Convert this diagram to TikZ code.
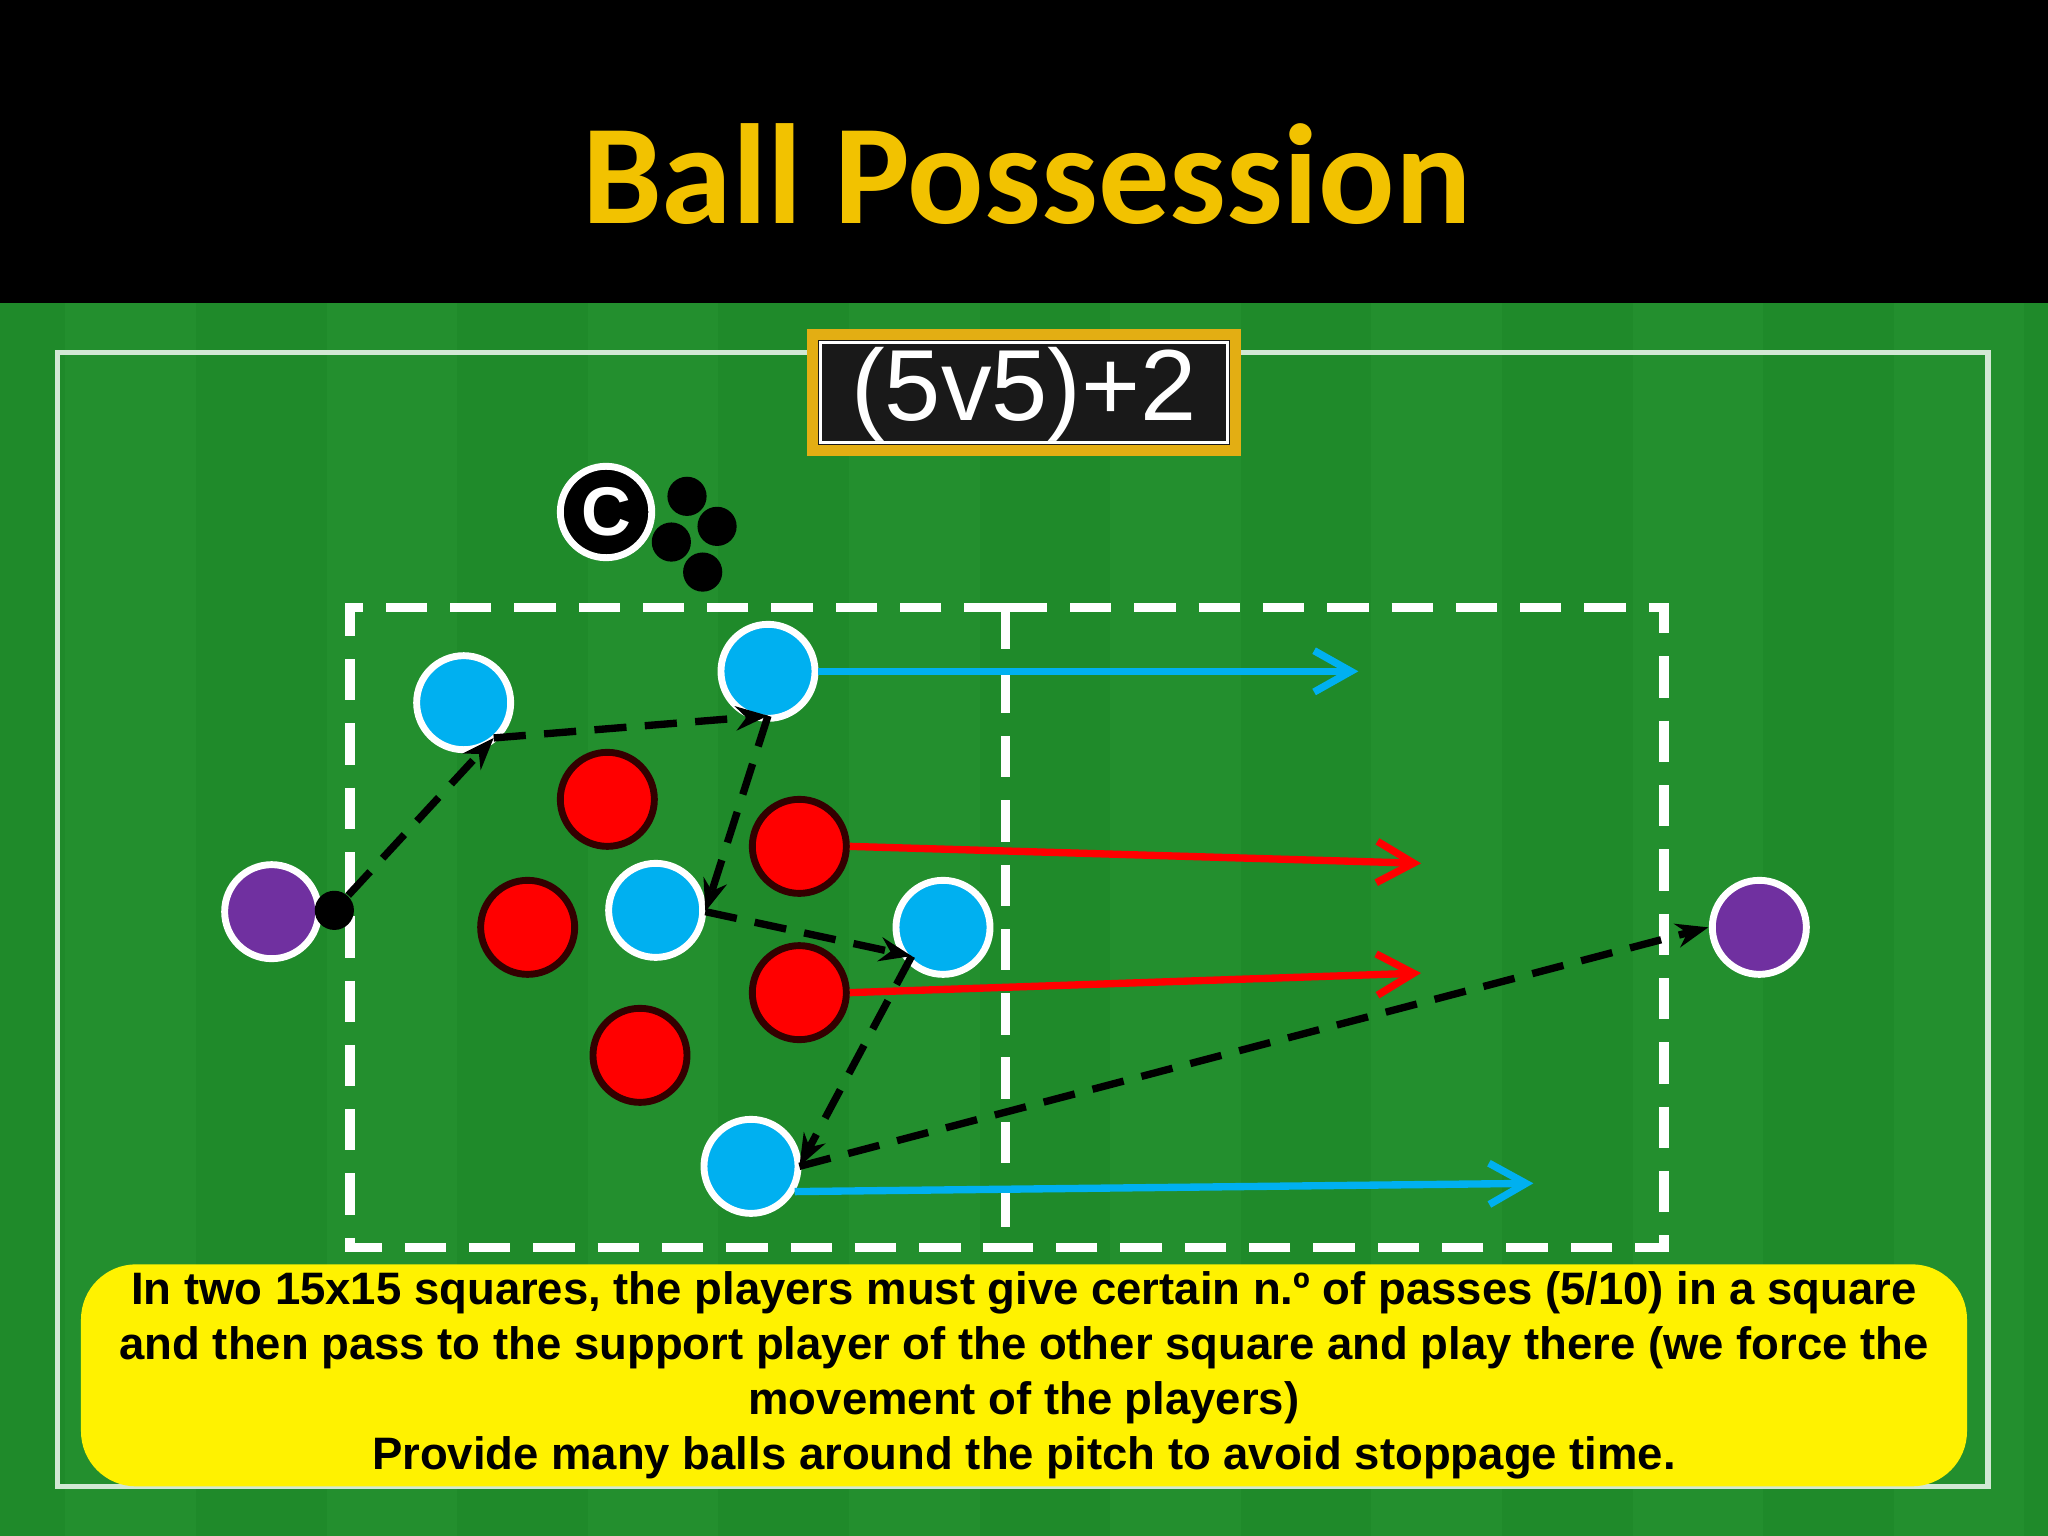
\documentclass[tikz,border=0pt]{standalone}
\usepackage{fontspec}
\setmainfont{Liberation Sans}
\newfontfamily\titlefont{Carlito}
\usetikzlibrary{arrows.meta}
\definecolor{pitch}{HTML}{1F8A2A}
\definecolor{pitchb}{HTML}{238F2E}
\definecolor{gold}{HTML}{F2C200}
\definecolor{pblue}{HTML}{00B0F0}
\definecolor{ppurple}{HTML}{7030A0}
\tikzset{
 player/.style={circle,minimum size=72*0.01cm,inner sep=0pt,line width=1.5pt},
 blueplayer/.style={player,fill=pblue,draw=white},
 redplayer/.style={player,fill=red,draw=black!80!red},
 purpleplayer/.style={player,fill=ppurple,draw=white},
 ball/.style={circle,fill=black,minimum size=30*0.01cm,inner sep=0pt},
 pass/.style={line width=1.6pt,dash pattern=on 7pt off 4pt,-{Stealth[length=7pt]}},
 run/.style={line width=1.6pt,-{Straight Barb[length=8pt,width=9pt]}},
 zone/.style={draw=white,line width=2pt,dash pattern=on 9pt off 5pt}
}
\begin{document}
\begin{tikzpicture}[x=0.01cm,y=-0.01cm]
\fill[black] (0,0) rectangle (1568,1176);
\fill[pitch] (0,232) rectangle (1568,1176);
\foreach \i in {0,2,...,14}{\fill[pitchb] (\i*100+50,232) rectangle (\i*100+150,1176);}
\node[font=\titlefont\bfseries\fontsize{31}{36}\selectfont,text=gold] (title) at (786,133) {Ball Possession};
\draw[white!80!pitch,line width=1.2pt] (44,270) rectangle (1522,1138);
% score box
\draw[fill=black!90,draw=gold!70!brown,line width=2.5pt] (622,256) rectangle (946,345);
\draw[white,line width=0.6pt] (628,262) rectangle (940,339);
\node[text=white,font=\fontsize{22}{26}\selectfont] (score) at (784,302) {(5v5)+2};
% coach and balls
\node[circle,fill=black,draw=white,line width=1.5pt,minimum size=70*0.01cm,inner sep=0pt,text=white,font=\bfseries\fontsize{15}{18}\selectfont] (coach) at (464,392) {C};
\node[ball] (b1) at (526,380) {};
\node[ball] (b2) at (549,403) {};
\node[ball] (b3) at (514,415) {};
\node[ball] (b4) at (538,438) {};
% zones
\draw[zone] (770,465) -- (268,465) -- (268,955) -- (770,955);
\draw[zone] (770,465) -- (1274,465) -- (1274,955) -- (770,955);
\draw[zone] (770,465) -- (770,955);
% players
\node[blueplayer] (u1) at (355,538) {};
\node[blueplayer] (u2) at (588,514) {};
\node[blueplayer] (u3) at (502,697) {};
\node[blueplayer] (u4) at (722,710) {};
\node[blueplayer] (u5) at (575,893) {};
\node[redplayer] (r1) at (465,612) {};
\node[redplayer] (r2) at (612,648) {};
\node[redplayer] (r3) at (404,710) {};
\node[redplayer] (r4) at (612,760) {};
\node[redplayer] (r5) at (490,808) {};
\node[purpleplayer] (p1) at (208,698) {};
\node[purpleplayer] (p2) at (1347,710) {};
\node[ball] (ball) at (256,697) {};
% runs
\coordinate (e1) at (1040,514);
\coordinate (e2) at (1088,661);
\coordinate (e3) at (1088,745);
\coordinate (e4) at (1174,906);
\draw[run,draw=pblue] (u2.east) -- (e1);
\draw[run,draw=red] (r2.east) -- (e2);
\draw[run,draw=red] (r4.east) -- (e3);
\draw[run,draw=pblue] (u5.330) -- (e4);
% passes
\coordinate (c1) at (378,565);
\coordinate (c2) at (588,548);
\coordinate (c3) at (540,698);
\coordinate (c4) at (698,732);
\coordinate (c5) at (612,893);
\coordinate (c6) at (1308,710);
\draw[pass] (ball) -- (c1);
\draw[pass] (c1) -- (c2);
\draw[pass] (c2) -- (c3);
\draw[pass] (c3) -- (c4);
\draw[pass] (c4) -- (c5);
\draw[pass] (c5) -- (c6);
% text box
\node[fill=yellow,rounded corners=12pt,minimum width=1444*0.01cm,minimum height=170*0.01cm,align=center,font=\bfseries\fontsize{9.9}{12}\selectfont,inner sep=0pt] (txt) at (784,1053) {In two 15x15 squares, the players must give certain n.º of passes (5/10) in a square\\and then pass to the support player of the other square and play there (we force the\\movement of the players)\\Provide many balls around the pitch to avoid stoppage time.};
\end{tikzpicture}
\end{document}
